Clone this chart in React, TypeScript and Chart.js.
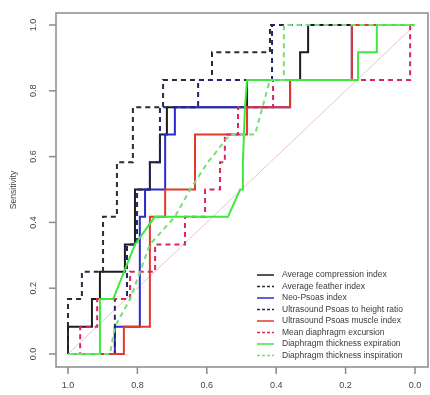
import React, { useEffect, useRef } from "react";
import { Chart, registerables } from "chart.js";

Chart.register(...registerables);

// ---- axis ticks / labels ----
const xTicks = [1.0, 0.8, 0.6, 0.4, 0.2, 0.0];
const xTickLabels = ["1.0", "0.8", "0.6", "0.4", "0.2", "0.0"];
const yTicks = [0.0, 0.2, 0.4, 0.6, 0.8, 1.0];
const yTickLabels = ["0.0", "0.2", "0.4", "0.6", "0.8", "1.0"];
const yTitle = "Sensitivity";

// ---- series labels ----
const seriesLabels = [
  "Average compression index",
  "Average feather index",
  "Neo-Psoas index",
  "Ultrasound Psoas to height ratio",
  "Ultrasound Psoas muscle index",
  "Mean diaphragm excursion",
  "Diaphragm thickness expiration",
  "Diaphragm thickness inspiration",
];

// ---- ROC curves: specificity (x, reversed) / sensitivity (y) ----
const compressionSpec = [1, 1, 0.931, 0.931, 0.908, 0.908, 0.836, 0.836, 0.807, 0.807, 0.764, 0.764, 0.735, 0.735, 0.715, 0.715, 0.484, 0.484, 0.331, 0.331, 0.308, 0.308, 0];
const compressionSens = [0, 0.083, 0.083, 0.167, 0.167, 0.25, 0.25, 0.333, 0.333, 0.5, 0.5, 0.583, 0.583, 0.667, 0.667, 0.75, 0.75, 0.833, 0.833, 0.917, 0.917, 1, 1];

const featherSpec = [1, 1, 0.96, 0.96, 0.899, 0.899, 0.859, 0.859, 0.813, 0.813, 0.726, 0.726, 0.585, 0.585, 0.418, 0.418, 0];
const featherSens = [0, 0.167, 0.167, 0.25, 0.25, 0.417, 0.417, 0.583, 0.583, 0.75, 0.75, 0.833, 0.833, 0.917, 0.917, 1, 1];

const neoPsoasSpec = [1, 0.865, 0.865, 0.793, 0.793, 0.778, 0.778, 0.72, 0.72, 0.692, 0.692, 0.36, 0.36, 0.182, 0.182, 0];
const neoPsoasSens = [0, 0, 0.083, 0.083, 0.417, 0.417, 0.5, 0.5, 0.667, 0.667, 0.75, 0.75, 0.833, 0.833, 1, 1];

const psoasHeightSpec = [1, 0.865, 0.865, 0.83, 0.83, 0.801, 0.801, 0.764, 0.764, 0.735, 0.735, 0.625, 0.625, 0.412, 0.412, 0];
const psoasHeightSens = [0, 0, 0.167, 0.167, 0.333, 0.333, 0.5, 0.5, 0.583, 0.583, 0.75, 0.75, 0.833, 0.833, 1, 1];

const psoasMuscleSpec = [1, 0.839, 0.839, 0.764, 0.764, 0.72, 0.72, 0.634, 0.634, 0.484, 0.484, 0.36, 0.36, 0.182, 0.182, 0];
const psoasMuscleSens = [0, 0, 0.083, 0.083, 0.417, 0.417, 0.5, 0.5, 0.667, 0.667, 0.75, 0.75, 0.833, 0.833, 1, 1];

const excursionSpec = [1, 0.965, 0.965, 0.916, 0.916, 0.821, 0.821, 0.749, 0.749, 0.663, 0.663, 0.605, 0.605, 0.562, 0.562, 0.548, 0.548, 0.51, 0.51, 0.409, 0.409, 0.014, 0.014, 0];
const excursionSens = [0, 0, 0.083, 0.083, 0.167, 0.167, 0.25, 0.25, 0.333, 0.333, 0.417, 0.417, 0.5, 0.5, 0.583, 0.583, 0.667, 0.667, 0.75, 0.75, 0.833, 0.833, 1, 1];

const expirationSpec = [1, 0.908, 0.908, 0.87, 0.807, 0.75, 0.539, 0.504, 0.496, 0.496, 0.49, 0.484, 0.164, 0.164, 0.11, 0.11, 0];
const expirationSens = [0, 0, 0.167, 0.167, 0.333, 0.417, 0.417, 0.5, 0.5, 0.583, 0.75, 0.833, 0.833, 0.917, 0.917, 1, 1];

const inspirationSpec = [1, 0.879, 0.865, 0.821, 0.764, 0.692, 0.648, 0.597, 0.533, 0.461, 0.418, 0.378, 0.378, 0];
const inspirationSens = [0, 0, 0.083, 0.167, 0.333, 0.417, 0.5, 0.583, 0.667, 0.667, 0.833, 0.833, 1, 1];

const diagonalSpec = [1, 0];
const diagonalSens = [0, 1];

const seriesSpec = [compressionSpec, featherSpec, neoPsoasSpec, psoasHeightSpec, psoasMuscleSpec, excursionSpec, expirationSpec, inspirationSpec];
const seriesSens = [compressionSens, featherSens, neoPsoasSens, psoasHeightSens, psoasMuscleSens, excursionSens, expirationSens, inspirationSens];
const seriesColors = ["#1c1c1c", "#2a2a3a", "#2b2bd0", "#24246e", "#e03a2a", "#d8285a", "#3ee83e", "#78df78"];
const seriesDash: number[][] = [[], [5, 4], [], [5, 4], [], [5, 4], [], [5, 4]];

const FONT = '"Liberation Sans", Arial, sans-serif';

const toPoints = (xs: number[], ys: number[]) => xs.map((x, i) => ({ x, y: ys[i] }));

const decorPlugin = {
  id: "rDecor",
  afterDraw(chart: any) {
    const { ctx, chartArea, scales } = chart;
    const { left, right, top, bottom } = chartArea;
    const xs = scales.x;
    const ys = scales.y;
    ctx.save();
    // frame
    ctx.strokeStyle = "#8a8a8a";
    ctx.lineWidth = 1.5;
    ctx.setLineDash([]);
    ctx.strokeRect(left, top, right - left, bottom - top);
    // x ticks
    ctx.fillStyle = "#444";
    ctx.font = `9px ${FONT}`;
    ctx.textAlign = "center";
    ctx.textBaseline = "middle";
    xTicks.forEach((v, i) => {
      const px = xs.getPixelForValue(v);
      ctx.beginPath();
      ctx.moveTo(px, bottom);
      ctx.lineTo(px, bottom + 7);
      ctx.stroke();
      ctx.fillText(xTickLabels[i], px, 386);
    });
    // y ticks
    yTicks.forEach((v, i) => {
      const py = ys.getPixelForValue(v);
      ctx.beginPath();
      ctx.moveTo(left, py);
      ctx.lineTo(left - 7, py);
      ctx.stroke();
      ctx.save();
      ctx.translate(34, py);
      ctx.rotate(-Math.PI / 2);
      ctx.fillText(yTickLabels[i], 0, 0);
      ctx.restore();
    });
    // y title
    ctx.save();
    ctx.translate(14, 190);
    ctx.rotate(-Math.PI / 2);
    ctx.font = `8.5px ${FONT}`;
    ctx.fillText(yTitle, 0, 0);
    ctx.restore();
    // legend
    ctx.font = `8.5px ${FONT}`;
    ctx.textAlign = "left";
    seriesLabels.forEach((lab, i) => {
      const ly = 275 + i * 11.5;
      ctx.strokeStyle = seriesColors[i];
      ctx.lineWidth = 1.5;
      ctx.setLineDash(seriesDash[i].length ? [3, 2] : []);
      ctx.beginPath();
      ctx.moveTo(257, ly);
      ctx.lineTo(274, ly);
      ctx.stroke();
      ctx.setLineDash([]);
      ctx.fillStyle = "#3a3a3a";
      ctx.fillText(lab, 282, ly);
    });
    ctx.restore();
  },
};

export default function App() {
  const canvasRef = useRef<HTMLCanvasElement | null>(null);

  useEffect(() => {
    const canvas = canvasRef.current;
    if (!canvas) return;
    const datasets: any[] = seriesLabels.map((label, i) => ({
      label,
      data: toPoints(seriesSpec[i], seriesSens[i]),
      showLine: true,
      borderColor: seriesColors[i],
      backgroundColor: seriesColors[i],
      borderWidth: 2,
      borderDash: seriesDash[i],
      pointRadius: 0,
      fill: false,
      tension: 0,
      order: 10 - i,
    }));
    datasets.push({
      label: "reference",
      data: toPoints(diagonalSpec, diagonalSens),
      showLine: true,
      borderColor: "#e8c4c8",
      borderWidth: 1,
      pointRadius: 0,
      fill: false,
      order: 20,
    });
    const chart = new Chart(canvas, {
      type: "scatter",
      data: { datasets },
      options: {
        animation: false,
        responsive: false,
        devicePixelRatio: 1,
        layout: { padding: { left: 56, right: 2, top: 13, bottom: 28 } },
        plugins: { legend: { display: false }, tooltip: { enabled: false } },
        scales: {
          x: { type: "linear", reverse: true, min: -0.0375, max: 1.0346, display: false },
          y: { type: "linear", min: -0.0395, max: 1.0365, display: false },
        },
      },
      plugins: [decorPlugin],
    });
    return () => chart.destroy();
  }, []);

  return (
    <div style={{ position: "fixed", left: 0, top: 0, width: 430, height: 395, background: "#fff" }}>
      <canvas ref={canvasRef} width={430} height={395} style={{ display: "block" }} />
    </div>
  );
}
